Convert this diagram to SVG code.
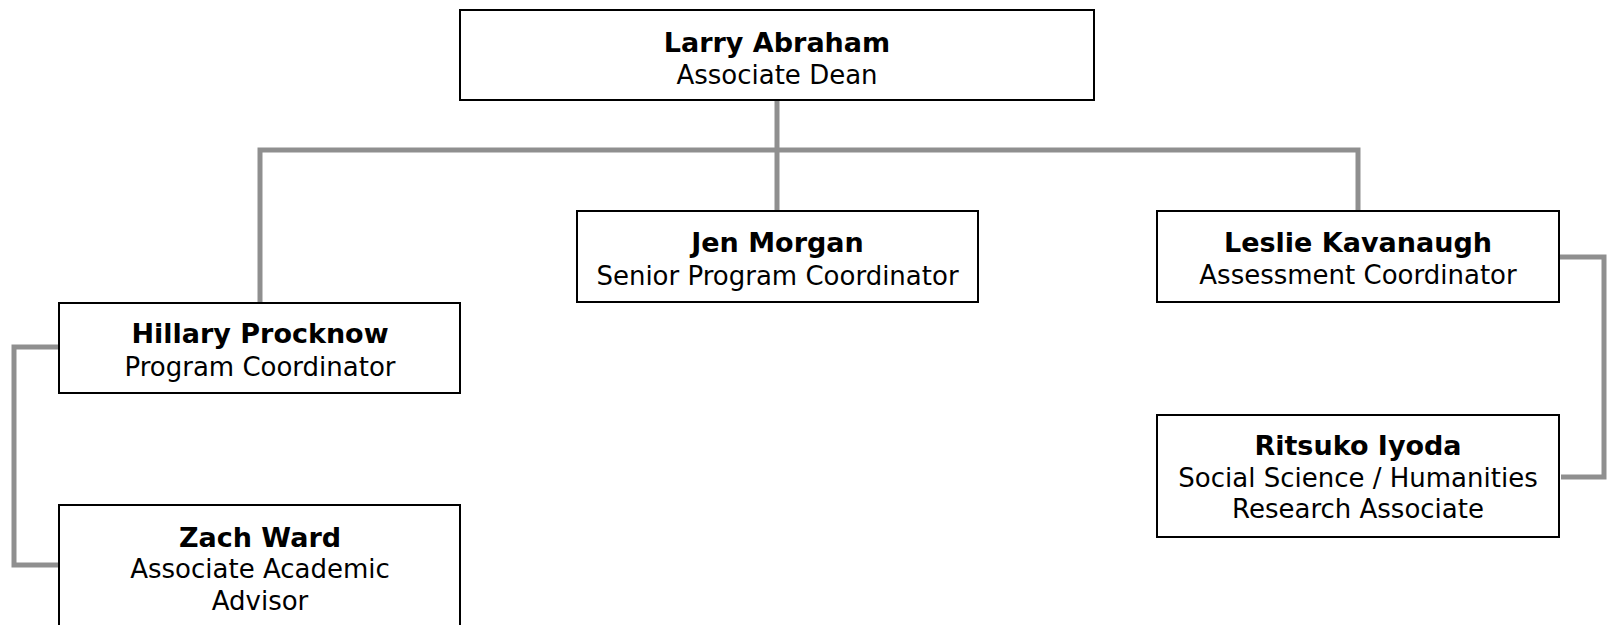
<svg xmlns="http://www.w3.org/2000/svg" width="1611" height="625" viewBox="0 0 1611 625">
<style>
.box{fill:#fff;stroke:#000;stroke-width:2}
.name{font-family:"DejaVu Sans",sans-serif;font-weight:bold;font-size:27px;fill:#000;text-anchor:middle}
.role{font-family:"DejaVu Sans",sans-serif;font-size:26px;fill:#000;text-anchor:middle}
.conn{fill:none;stroke:#8f8f8f;stroke-width:5;stroke-linejoin:miter}
</style>
<rect width="1611" height="625" fill="#fff"/>
<g id="connectors">
<path class="conn" d="M777 100 V211"/>
<path class="conn" d="M260 303 V150 H1358 V211"/>
<path class="conn" d="M59 347 H14 V565 H59"/>
<path class="conn" d="M1559 257 H1604 V477 H1561"/>
</g>
<g id="larry">
<rect class="box" x="460" y="10" width="634" height="90"/>
<text class="name" x="777" y="52">Larry Abraham</text>
<text class="role" x="777" y="84">Associate Dean</text>
</g>
<g id="jen">
<rect class="box" x="577" y="211" width="401" height="91"/>
<text class="name" x="777.5" y="252">Jen Morgan</text>
<text class="role" x="777.5" y="285">Senior Program Coordinator</text>
</g>
<g id="leslie">
<rect class="box" x="1157" y="211" width="402" height="91"/>
<text class="name" x="1358" y="252">Leslie Kavanaugh</text>
<text class="role" x="1358" y="284">Assessment Coordinator</text>
</g>
<g id="hillary">
<rect class="box" x="59" y="303" width="401" height="90"/>
<text class="name" x="260" y="343">Hillary Procknow</text>
<text class="role" x="260" y="376">Program Coordinator</text>
</g>
<g id="ritsuko">
<rect class="box" x="1157" y="415" width="402" height="122"/>
<text class="name" x="1358" y="455">Ritsuko Iyoda</text>
<text class="role" x="1358" y="487">Social Science / Humanities</text>
<text class="role" x="1358" y="518">Research Associate</text>
</g>
<g id="zach">
<rect class="box" x="59" y="505" width="401" height="130"/>
<text class="name" x="260" y="547">Zach Ward</text>
<text class="role" x="260" y="578">Associate Academic</text>
<text class="role" x="260" y="610">Advisor</text>
</g>
</svg>
